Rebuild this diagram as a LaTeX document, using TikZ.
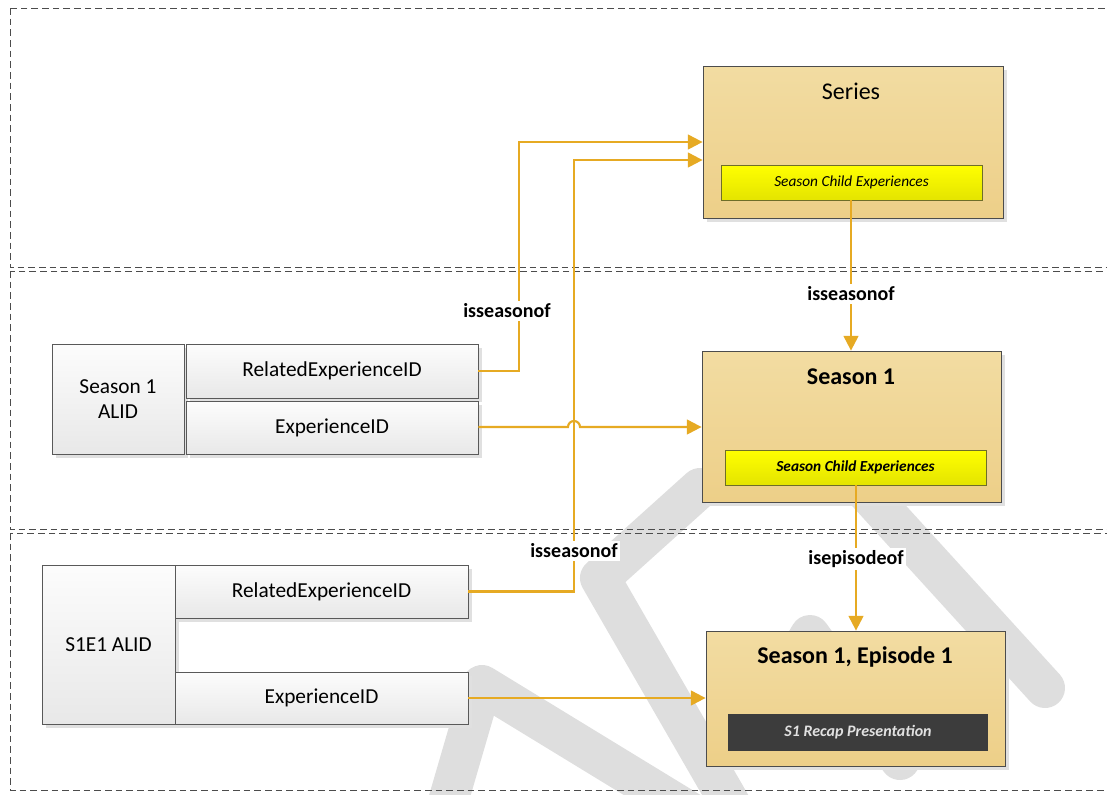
\documentclass[tikz,border=0pt]{standalone}
\usepackage{fontspec}
\setmainfont{Carlito}
\usetikzlibrary{arrows.meta,shadows,calc}
\definecolor{connc}{RGB}{230,170,35}
\definecolor{tantop}{RGB}{242,220,162}
\definecolor{tanbot}{RGB}{237,207,136}
\definecolor{ylwbord}{RGB}{110,110,40}
\definecolor{wmark}{RGB}{222,222,222}
\begin{document}
\begin{tikzpicture}[x=0.75pt,y=-0.75pt,
  lane/.style={draw=black!70, line width=0.7pt, dash pattern=on 5pt off 3pt},
  wm/.style={draw=wmark, line width=30pt, line cap=round, line join=round},
  shad/.style={drop shadow={shadow xshift=3pt, shadow yshift=-3pt, fill=black!12, opacity=1}},
  idbox/.style={draw=black!65, line width=0.6pt, top color=black!1, bottom color=black!9, shad,
    inner sep=0pt, align=center, font=\fontsize{16}{19}\selectfont},
  entbox/.style={draw=black!70, line width=0.6pt, top color=tantop, bottom color=tanbot, shad, inner sep=0pt},
  ylwbox/.style={draw=ylwbord, line width=0.6pt, top color=yellow, bottom color={rgb,255:red,228;green,228;blue,0}, inner sep=0pt},
  darkbox/.style={fill={rgb,255:red,60;green,60;blue,60}, inner sep=0pt, text={rgb,255:red,225;green,225;blue,225}},
  title/.style={font=\fontsize{18}{22}\selectfont},
  conn/.style={draw=connc, line width=1.6pt, -{Triangle[length=11pt,width=11pt]}},
  connn/.style={draw=connc, line width=1.6pt},
  lbl/.style={fill=white, inner sep=2pt, font=\fontsize{15}{18}\selectfont\bfseries}
]
\useasboundingbox (0,0) rectangle (1107,794);
% watermark
\draw[wm] (1045,688) -- (810,430);
\draw[wm] (700,488) -- (600,578) -- (735,812);
\draw[wm] (760,720) -- (810,635) -- (900,760);
\draw[wm] (445,812) -- (482,685) -- (690,812);
% lanes
\draw[lane] (10,8) rectangle (1125,267);
\draw[lane] (10,271) rectangle (1125,529);
\draw[lane] (10,533) rectangle (1125,790);
% entity boxes
\node[entbox, minimum width=225pt, minimum height=114pt] (series) at (853,142) {};
\node[title] (seriest) at (851,91) {Series};
\node[ylwbox, minimum width=195.75pt, minimum height=26.25pt, font=\fontsize{11.5}{14}\selectfont\itshape] (serieschild) at (851.5,182.5) {Season Child Experiences};
\node[entbox, minimum width=224.25pt, minimum height=113.25pt] (season) at (851.5,426.5) {};
\node[title, font=\fontsize{18}{22}\selectfont\bfseries] (seasont) at (851,377) {Season 1};
\node[ylwbox, minimum width=195.75pt, minimum height=26.25pt, font=\fontsize{11.5}{14}\selectfont\bfseries\itshape] (seasonchild) at (855.5,467.5) {Season Child Experiences};
\node[entbox, minimum width=224.25pt, minimum height=101.25pt] (episode) at (855.5,698.5) {};
\node[title, font=\fontsize{18}{22}\selectfont\bfseries] (episodet) at (855,657) {Season 1, Episode 1};
\node[darkbox, minimum width=195pt, minimum height=27.75pt, font=\fontsize{12}{14}\selectfont\bfseries\itshape] (recap) at (858,732.5) {S1 Recap Presentation};
% left id boxes
\node[idbox, minimum width=99pt, minimum height=82.5pt] (s1alid) at (118,399) {Season 1\\ALID};
\node[idbox, minimum width=219pt, minimum height=40.5pt] (s1rel) at (332,371) {RelatedExperienceID};
\node[idbox, minimum width=219pt, minimum height=39.75pt] (s1exp) at (332,427.5) {ExperienceID};
\node[idbox, minimum width=99.75pt, minimum height=119.25pt] (e1alid) at (108.5,644.5) {S1E1 ALID};
\node[idbox, minimum width=219.75pt, minimum height=39.75pt] (e1rel) at (321.5,591.5) {RelatedExperienceID};
\node[idbox, minimum width=219.75pt, minimum height=39pt] (e1exp) at (321.5,698) {ExperienceID};
% connectors
\coordinate (j1) at (568,427);
\draw[conn] (s1rel.east) -| (519,142) -- (series.west |- 0,142);
\draw[conn] (e1rel.east) -| (574,160) -- (series.west |- 0,160);
\draw[conn] (s1exp.east |- j1) -- (j1) arc[start angle=180, end angle=0, radius=4.5pt] -- (season.west |- j1);
\draw[conn] (e1exp.east) -- (episode.west |- e1exp.east);
\draw[conn] (serieschild.south -| 851,0) -- (season.north -| 851,0);
\draw[conn] (seasonchild.south -| 856,0) -- (episode.north -| 856,0);
% labels
\node[lbl] (l1) at (507,311) {isseasonof};
\node[lbl] (l2) at (574,551) {isseasonof};
\node[lbl] (l3) at (851,294) {isseasonof};
\node[lbl] (l4) at (856,559) {isepisodeof};
\end{tikzpicture}
\end{document}
